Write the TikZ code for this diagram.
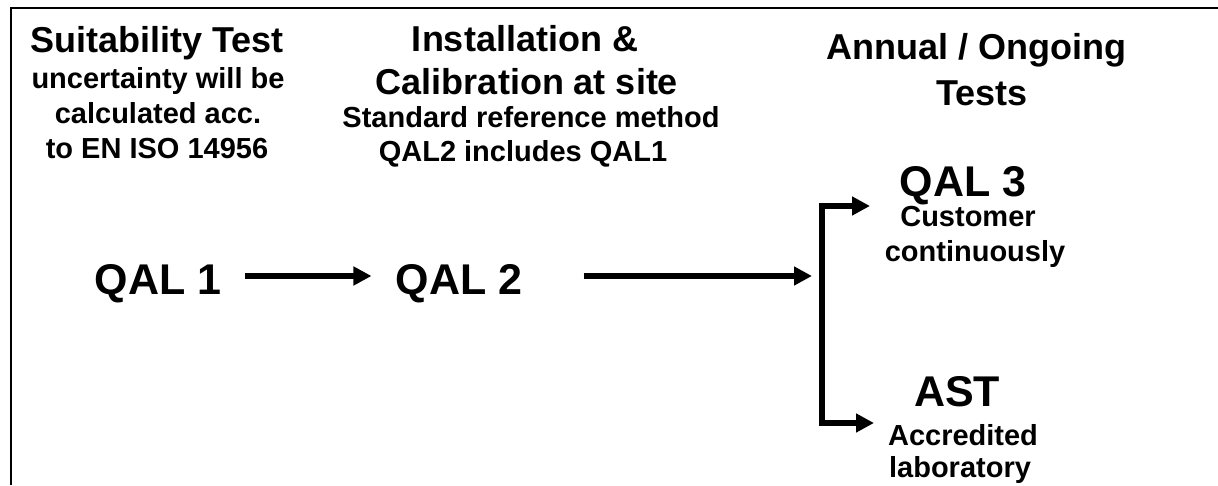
\documentclass[tikz,border=0pt]{standalone}
\usepackage{fontspec}
\setmainfont{Liberation Sans}
\usetikzlibrary{arrows.meta,calc}
\tikzset{
  txt/.style={inner sep=0pt, anchor=base, font=\bfseries},
  ttl/.style={txt, font=\fontsize{36}{40}\selectfont\bfseries},
  sub/.style={txt, font=\fontsize{29}{35}\selectfont\bfseries},
  big/.style={txt, font=\fontsize{43}{48}\selectfont\bfseries},
  arr/.style={line width=5.5pt, -{Triangle[length=18pt,width=18pt]}},
  frame/.style={line width=2pt}
}
\begin{document}
\begin{tikzpicture}[x=1pt,y=1pt]
\useasboundingbox (0,0) rectangle (1218,485);
\fill[white] (0,0) rectangle (1218,485);
% frame (left and top edges)
\draw[frame] (10.5,0) -- (10.5,476.5) -- (1218,476.5);

% left column
\node[ttl] (st)  at (157,432) {Suitability Test};
\node[sub] (su1) at (158,396) {uncertainty will be};
\node[sub] (su2) at (158,361) {calculated acc.};
\node[sub] (su3) at (157,326) {to EN ISO 14956};

% middle column
\node[ttl] (in1) at (525,433) {Installation \&};
\node[ttl] (in2) at (527,390) {Calibration at site};
\node[sub] (in3) at (531,357) {Standard reference method};
\node[sub] (in4) at (523,323) {QAL2 includes QAL1};

% right column
\node[ttl] (an1) at (976,425) {Annual / Ongoing};
\node[ttl] (an2) at (982,379) {Tests};
\node[big] (q3)  at (963,288) {QAL 3};
\node[sub] (c1)  at (968,258) {Customer};
\node[sub] (c2)  at (975,223) {continuously};
\node[big] (ast) at (957,79)  {AST};
\node[sub] (l1)  at (963,40)  {Accredited};
\node[sub] (l2)  at (960,8)   {laboratory};

% main row
\node[big] (q1) at (158,190) {QAL 1};
\node[big] (q2) at (459,190) {QAL 2};

\coordinate (fork) at (822,209);
\coordinate (t3)   at (870,279);
\coordinate (tast) at (874,62);

\draw[arr] ($(q1.base east)+(23,19)$) -- ($(q2.base west)+(-24,19)$);
\draw[arr, shorten >=10pt] ($(q2.base east)+(61,19)$) -- (fork);
\draw[arr] (fork) |- (t3);
\draw[arr] (fork) |- (tast);
\end{tikzpicture}
\end{document}
